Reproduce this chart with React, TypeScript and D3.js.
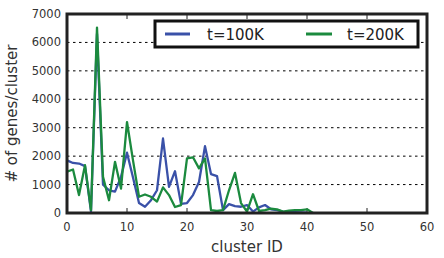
import React from "react";
import * as d3 from "d3";

const clusterIds100 = d3.range(0, 41);
const genes100K = [
  1850, 1760, 1740, 1650, 50, 6300, 1000, 800, 750, 1270,
  2120, 1250, 350, 220, 450, 800, 2620, 920, 1470, 320,
  350, 630, 1090, 2350, 1370, 1300, 100, 310, 240, 220,
  280, 50, 200, 280, 130, 100, 50, 40, 30, 20, 10,
];
const clusterIds200 = d3.range(0, 42);
const genes200K = [
  1450, 1530, 630, 1680, 100, 6520, 1270, 450, 1800, 860,
  3200, 1850, 570, 650, 570, 400, 900, 630, 210, 280,
  1920, 1960, 1570, 1920, 100, 70, 100, 800, 1410, 350,
  50, 660, 70, 100, 150, 130, 50, 80, 100, 100, 130, 0,
];
const xTicks = [0, 10, 20, 30, 40, 50, 60];
const yTicks = [0, 1000, 2000, 3000, 4000, 5000, 6000, 7000];
const gridValues = [1000, 2000, 3000, 4000, 5000, 6000];
const seriesNames = ["t=100K", "t=200K"];

const W = 444, H = 258;
const L = 67, R = 427, T = 14, B = 213;
const BLUE = "#3a51a8";
const GREEN = "#1b8a3e";
const FONT = "DejaVu Sans, sans-serif";

export default function App() {
  const x = d3.scaleLinear().domain([0, 60]).range([L, R]);
  const y = d3.scaleLinear().domain([0, 7000]).range([B, T]);
  const mk = d3.line<[number, number]>().x(d => x(d[0])).y(d => y(d[1]));
  const p100 = mk(clusterIds100.map((c, i) => [c, genes100K[i]] as [number, number])) || "";
  const p200 = mk(clusterIds200.map((c, i) => [c, genes200K[i]] as [number, number])) || "";
  return (
    <svg width={W} height={H} style={{ position: "absolute", left: 0, top: 0 }} fontFamily={FONT}>
      <rect x={0} y={0} width={W} height={H} fill="#fff" />
      <defs>
        <clipPath id="plot">
          <rect x={L} y={T} width={R - L} height={B - T} />
        </clipPath>
      </defs>
      {gridValues.map(v => (
        <line key={v} x1={L} x2={R} y1={y(v)} y2={y(v)} stroke="#000" strokeWidth={1} strokeDasharray="2.5,3.5" />
      ))}
      {xTicks.slice(1, -1).map(t => (
        <g key={t}>
          <line x1={x(t)} x2={x(t)} y1={T} y2={T + 5} stroke="#222" strokeWidth={1} />
          <line x1={x(t)} x2={x(t)} y1={B} y2={B - 5} stroke="#222" strokeWidth={1} />
        </g>
      ))}
      <g clipPath="url(#plot)">
        <path d={p100} fill="none" stroke={BLUE} strokeWidth={2.3} strokeLinejoin="round" />
        <path d={p200} fill="none" stroke={GREEN} strokeWidth={2.3} strokeLinejoin="round" />
      </g>
      <rect x={L} y={T} width={R - L} height={B - T} fill="none" stroke="#222" strokeWidth={3} />
      {xTicks.map(t => (
        <text key={t} x={x(t)} y={227} fontSize={11.5} fill="#333" textAnchor="middle" dominantBaseline="central">{t}</text>
      ))}
      {yTicks.map(t => (
        <text key={t} x={61} y={y(t)} fontSize={11.5} fill="#333" textAnchor="end" dominantBaseline="central">{t}</text>
      ))}
      <text x={(L + R) / 2} y={247} fontSize={15} fill="#333" textAnchor="middle" dominantBaseline="central">cluster ID</text>
      <text transform={`translate(12,${(T + B) / 2}) rotate(-90)`} fontSize={15} fill="#333" textAnchor="middle" dominantBaseline="central"># of genes/cluster</text>
      <g>
        <rect x={155} y={21} width={263} height={26} fill="#fff" stroke="#111" strokeWidth={3} />
        <line x1={165} x2={190} y1={34} y2={34} stroke={BLUE} strokeWidth={3} />
        <text x={207} y={34.5} fontSize={15} fill="#222" dominantBaseline="central">{seriesNames[0]}</text>
        <line x1={306} x2={332} y1={34} y2={34} stroke={GREEN} strokeWidth={3} />
        <text x={347} y={34.5} fontSize={15} fill="#222" dominantBaseline="central">{seriesNames[1]}</text>
      </g>
    </svg>
  );
}
